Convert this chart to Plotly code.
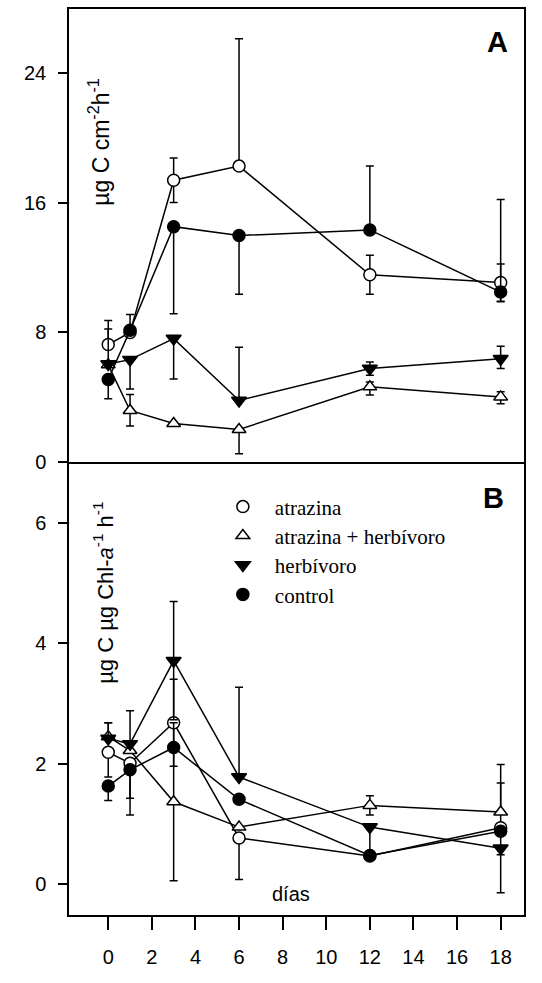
import plotly.graph_objects as go

days = [0, 1, 3, 6, 12, 18]
x_ticks = [0, 2, 4, 6, 8, 10, 12, 14, 16, 18]
yA_ticks = [0, 8, 16, 24]
yB_ticks = [0, 2, 4, 6]

series_names = ["atrazina", "atrazina + herbívoro", "herbívoro", "control"]

# Panel A: µg C cm-2 h-1
atrazina_A = [7.25, 8.0, 17.4, 18.27, 11.56, 11.08]
atr_herb_A = [6.0, 3.18, 2.38, 2.01, 4.64, 4.02]
herb_A = [6.05, 6.32, 7.62, 3.8, 5.77, 6.38]
control_A = [5.09, 8.13, 14.53, 13.98, 14.33, 10.49]

atrazina_A_up = [1.49, 0, 1.37, 7.86, 1.2, 1.15]
atrazina_A_dn = [0, 0, 1.37, 0, 1.2, 1.15]
atr_herb_A_up = [0, 0.99, 0, 0, 0.3, 0.31]
atr_herb_A_dn = [0, 0.96, 0, 1.5, 0.51, 0.43]
herb_A_up = [2.16, 0, 0, 3.28, 0.41, 0.76]
herb_A_dn = [0, 1.81, 2.49, 0, 0.41, 0.61]
control_A_up = [0, 0.98, 0, 0, 3.94, 5.72]
control_A_dn = [1.19, 0, 5.38, 3.62, 0, 0.6]

# Panel B: µg C µg Chl-a-1 h-1
atrazina_B = [2.19, 2.01, 2.68, 0.77, 0.47, 0.94]
atr_herb_B = [2.45, 2.22, 1.37, 0.95, 1.31, 1.2]
herb_B = [2.42, 2.33, 3.71, 1.78, 0.95, 0.6]
control_B = [1.63, 1.90, 2.27, 1.41, 0.48, 0.88]

atrazina_B_up = [0, 0, 0.72, 0, 0, 1.05]
atrazina_B_dn = [0.41, 0.58, 0.72, 0.69, 0, 1.08]
atr_herb_B_up = [0.23, 0, 1.31, 0, 0.16, 0.48]
atr_herb_B_dn = [0, 0, 1.31, 0, 0.16, 0]
herb_B_up = [0.26, 0.55, 0.98, 1.49, 0, 0]
herb_B_dn = [0, 0, 0.98, 0, 0.47, 0.11]
control_B_up = [0, 0, 0, 0, 0, 0]
control_B_dn = [0.24, 0.75, 0, 0, 0, 0]

styles = [
    dict(symbol="circle", color="white"),
    dict(symbol="triangle-up", color="white"),
    dict(symbol="triangle-down", color="black"),
    dict(symbol="circle", color="black"),
]
sizes = [12, 12, 13, 12]

fig = go.Figure()

panelA = [
    (atrazina_A, atrazina_A_up, atrazina_A_dn),
    (atr_herb_A, atr_herb_A_up, atr_herb_A_dn),
    (herb_A, herb_A_up, herb_A_dn),
    (control_A, control_A_up, control_A_dn),
]
panelB = [
    (atrazina_B, atrazina_B_up, atrazina_B_dn),
    (atr_herb_B, atr_herb_B_up, atr_herb_B_dn),
    (herb_B, herb_B_up, herb_B_dn),
    (control_B, control_B_up, control_B_dn),
]

def add(vals, up, dn, st, sz, name, xa, ya):
    fig.add_trace(go.Scatter(
        x=days, y=vals, mode="lines+markers", name=name, showlegend=False,
        xaxis=xa, yaxis=ya,
        line=dict(color="black", width=1.5),
        marker=dict(symbol=st["symbol"], color=st["color"], size=sz,
                    line=dict(color="black", width=1.5)),
        error_y=dict(type="data", symmetric=False, array=up, arrayminus=dn,
                     color="black", thickness=1.5, width=4),
    ))

for (v, u, d), st, sz, nm in zip(panelA, styles, sizes, series_names):
    add(v, u, d, st, sz, nm, "x2", "y2")
for (v, u, d), st, sz, nm in zip(panelB, styles, sizes, series_names):
    add(v, u, d, st, sz, nm, "x", "y")

legend_keys = ["legend", "legend2", "legend3", "legend4"]
legend_y = [0.4504, 0.4185, 0.386, 0.3535]
for st, sz, nm, lk in zip(styles, sizes, series_names, legend_keys):
    fig.add_trace(go.Scatter(
        x=[None], y=[None], mode="markers", name=nm, showlegend=True, legend=lk,
        xaxis="x", yaxis="y",
        marker=dict(symbol=st["symbol"], color=st["color"], size=sz,
                    line=dict(color="black", width=1.5)),
    ))

axis_common = dict(showline=True, linecolor="black", linewidth=1.5,
                   showgrid=False, zeroline=False)

layout = dict(
    width=542, height=983,
    margin=dict(l=69, r=18, t=7, b=68),
    paper_bgcolor="white", plot_bgcolor="white",
    font=dict(family="Liberation Sans, Arial, sans-serif", color="black", size=20),
    xaxis=dict(domain=[0, 1], range=[-1.8, 19.07], anchor="y", mirror=False,
               tickvals=x_ticks, ticks="outside", ticklen=13, tickwidth=1.5,
               tickcolor="black", ticklabelstandoff=10,
               tickfont=dict(size=20), **axis_common),
    xaxis2=dict(domain=[0, 1], range=[-1.8, 19.07], anchor="y2", matches="x",
                mirror=True, showticklabels=False, ticks="", **axis_common),
    yaxis=dict(domain=[0, 0.5], range=[-0.508, 7.005], anchor="x", mirror=True,
               tickvals=yB_ticks, ticks="outside", ticklen=9, tickwidth=1.5,
               tickcolor="black", ticklabelstandoff=8,
               tickfont=dict(size=20), **axis_common),
    yaxis2=dict(domain=[0.5, 1], range=[0, 27.97], anchor="x2", mirror=True,
                tickvals=yA_ticks, ticks="outside", ticklen=9, tickwidth=1.5,
                tickcolor="black", ticklabelstandoff=8,
                tickfont=dict(size=20), **axis_common),
)
for lk, ly in zip(legend_keys, legend_y):
    layout[lk] = dict(x=0.3118, xanchor="left", y=ly, yanchor="middle",
                      bgcolor="rgba(0,0,0,0)", borderwidth=0, itemwidth=54,
                      font=dict(family="Liberation Serif, Times New Roman, serif",
                                size=21, color="black"))
fig.update_layout(**layout)

fig.add_annotation(text="<b>A</b>", x=0.9407, y=0.9637, xref="paper", yref="paper",
                   showarrow=False, font=dict(size=29), xanchor="center", yanchor="middle")
fig.add_annotation(text="<b>B</b>", x=0.932, y=0.4604, xref="paper", yref="paper",
                   showarrow=False, font=dict(size=29), xanchor="center", yanchor="middle")
fig.add_annotation(text="µg C cm<sup>-2</sup>h<sup>-1</sup>", x=0.066, y=0.8535,
                   xref="paper", yref="paper", showarrow=False, textangle=-90,
                   font=dict(size=23), xanchor="center", yanchor="middle")
fig.add_annotation(text="µg C µg Chl-<i>a</i><sup>-1</sup> h<sup>-1</sup>", x=0.075, y=0.3557,
                   xref="paper", yref="paper", showarrow=False, textangle=-90,
                   font=dict(size=22), xanchor="center", yanchor="middle")
fig.add_annotation(text="días", x=0.488, y=0.0231, xref="paper", yref="paper",
                   showarrow=False, font=dict(size=20), xanchor="center", yanchor="middle")

fig.write_html("out.html")
